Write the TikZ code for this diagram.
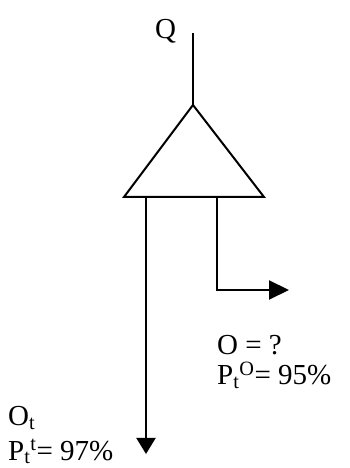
\documentclass[tikz,border=0pt]{standalone}
\usepackage{fontspec}
\setmainfont{Liberation Serif}
\usetikzlibrary{arrows.meta}
\begin{document}
\begin{tikzpicture}[x=1pt,y=1pt,
  line/.style={line width=2pt},
  lbl/.style={inner sep=0pt,anchor=base west,font=\fontsize{29}{32}\selectfont},
  downtip/.style={-{Triangle[length=16pt,width=19pt]}},
  righttip/.style={-{Triangle[length=20pt,width=19pt]}}]
\useasboundingbox (0,0) rectangle (349,468);
\coordinate (top) at (193,435);
\coordinate (apex) at (193,363);
\coordinate (bl) at (124,271);
\coordinate (br) at (264,271);
\coordinate (ls) at (146,271);
\coordinate (le) at (146,14);
\coordinate (rs) at (217,271);
\coordinate (rc) at (217,178);
\coordinate (re) at (289,178);
\node[lbl] (q) at (155,429) {Q};
\draw[line] (top) -- (apex);
\draw[line,line join=miter] (apex) -- (br) -- (bl) -- cycle;
\draw[line,downtip] (ls) -- (le);
\draw[line,righttip] (rs) -- (rc) -- (re);
\node[lbl] (o) at (217,113) {O = ?};
\node[lbl] (po) at (217,83) {P\textsubscript{t}\textsuperscript{O}= 95\%};
\node[lbl] (ot) at (8,42) {O\textsubscript{t}};
\node[lbl] (pt) at (8,8) {P\textsubscript{t}\textsuperscript{t}= 97\%};
\end{tikzpicture}
\end{document}
